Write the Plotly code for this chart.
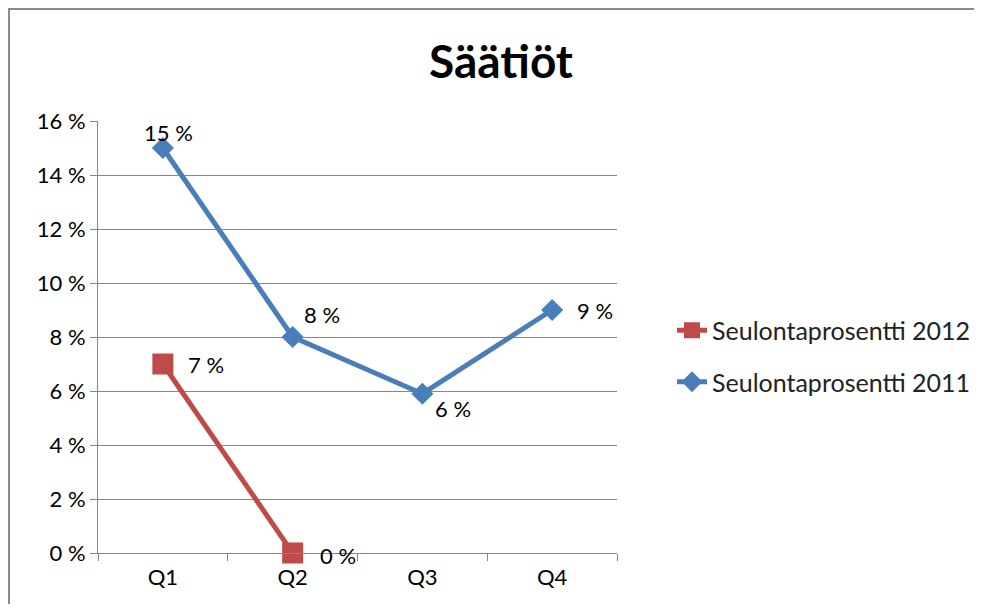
import plotly.graph_objects as go

quarters = ["Q1", "Q2", "Q3", "Q4"]
rate_2012 = [0.07, 0.0]
rate_2011 = [0.15, 0.08, 0.059, 0.09]
labels_2012 = ["7 %", "0 %"]
labels_2011 = ["15 %", "8 %", "6 %", "9 %"]
y_ticks = [0, 0.02, 0.04, 0.06, 0.08, 0.10, 0.12, 0.14, 0.16]
y_tick_text = ["0 %", "2 %", "4 %", "6 %", "8 %", "10 %", "12 %", "14 %", "16 %"]

# label offsets (px) from each point, as in the original
shift_2012 = [(43, 0), (45, -2)]
shift_2011 = [(6, 16), (29, 23), (31, -15), (43, 0)]

red = "#BE4B48"
blue = "#4A7EBB"
grid = "#868686"
font_family = "Lato, 'Open Sans', sans-serif"

# the page body has an 8px margin, so the figure is a bit smaller than the window
PAD = 8
W, H = 982 - 2 * PAD, 612 - 2 * PAD


def px(x):
    return (x - PAD) / W


def py(y):
    return 1 - (y - PAD) / H


fig = go.Figure()

fig.add_trace(
    go.Scatter(
        x=quarters[: len(rate_2012)],
        y=rate_2012,
        name="Seulontaprosentti 2012",
        legendgroup="a",
        mode="lines+markers",
        line=dict(color=red, width=5),
        marker=dict(symbol="square", size=21, color=red),
        cliponaxis=False,
    )
)

fig.add_trace(
    go.Scatter(
        x=quarters,
        y=rate_2011,
        name="Seulontaprosentti 2011",
        legendgroup="b",
        mode="lines+markers",
        line=dict(color=blue, width=5),
        marker=dict(symbol="diamond", size=17, color=blue),
        cliponaxis=False,
    )
)

# data labels
for xs, ys, texts, shifts in [
    (quarters, rate_2012, labels_2012, shift_2012),
    (quarters, rate_2011, labels_2011, shift_2011),
]:
    for x, y, t, (dx, dy) in zip(xs, ys, texts, shifts):
        fig.add_annotation(
            x=x, y=y, text=t, showarrow=False,
            xanchor="center", yanchor="middle",
            xshift=dx, yshift=dy,
            font=dict(size=22, color="black"),
        )

fig.update_layout(
    width=W,
    height=H,
    margin=dict(l=0, r=0, t=0, b=0, autoexpand=False),
    paper_bgcolor="white",
    plot_bgcolor="white",
    font=dict(family=font_family, size=22, color="black"),
    title=dict(
        text="<b>Säätiöt</b>",
        x=px(501),
        xanchor="center",
        y=py(62),
        yanchor="middle",
        font=dict(size=46, color="black"),
    ),
    showlegend=True,
    legend=dict(
        x=px(672),
        y=py(356),
        xanchor="left",
        yanchor="middle",
        font=dict(size=25, color="#222"),
        bgcolor="rgba(0,0,0,0)",
        tracegroupgap=16,
    ),
    shapes=[
        dict(
            type="rect",
            xref="paper",
            yref="paper",
            x0=1 / W,
            x1=1.05,
            y0=-0.05,
            y1=py(9),
            line=dict(color="#8a8a8a", width=2),
            layer="below",
        )
    ],
)

fig.update_xaxes(
    domain=[px(98), px(617)],
    type="category",
    range=[-0.5, 3.5],
    automargin=False,
    showgrid=False,
    showline=True,
    linecolor=grid,
    linewidth=1,
    ticks="outside",
    tickson="boundaries",
    ticklen=7,
    tickcolor=grid,
    ticklabelstandoff=5,
    tickfont=dict(size=22),
)

fig.update_yaxes(
    domain=[py(553), py(121)],
    range=[0, 0.16],
    automargin=False,
    tickvals=y_ticks,
    ticktext=y_tick_text,
    showgrid=True,
    gridcolor=grid,
    gridwidth=1,
    showline=True,
    linecolor=grid,
    ticks="outside",
    ticklen=7,
    tickcolor=grid,
    tickfont=dict(size=22),
    zeroline=False,
)

fig.write_html("out.html")
